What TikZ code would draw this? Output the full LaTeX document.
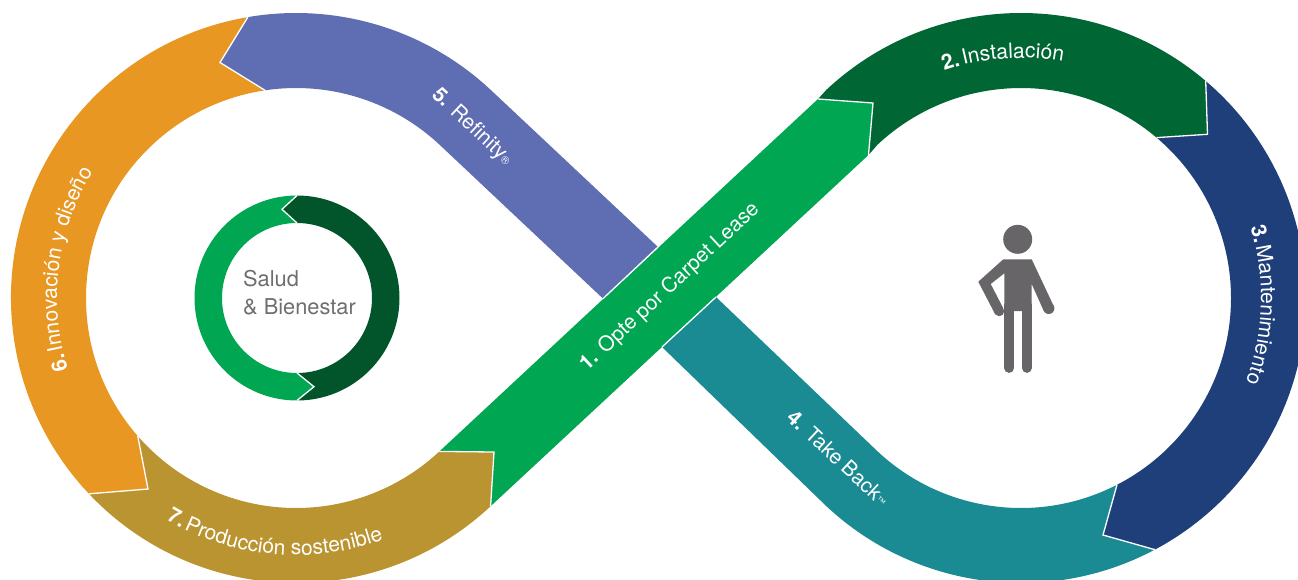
\documentclass[tikz,border=0pt]{standalone}
\usepackage{fontspec}
\setmainfont{TeX Gyre Heros}
\usetikzlibrary{decorations.text}

\definecolor{bandlease}{HTML}{00A651}
\definecolor{bandinstall}{HTML}{006633}
\definecolor{bandcare}{HTML}{1F3F7A}
\definecolor{bandback}{HTML}{1B8B93}
\definecolor{bandrefinity}{HTML}{5F6DB3}
\definecolor{banddesign}{HTML}{E79722}
\definecolor{bandmake}{HTML}{BA9431}
\definecolor{ringdark}{HTML}{02552A}
\definecolor{personcol}{HTML}{676567}
\definecolor{labelgrey}{HTML}{6D6E70}

\newcommand{\bandfont}{\fontsize{21}{24}\selectfont\color{white}}

\begin{document}
\begin{tikzpicture}[x=1pt,y=1pt,
    sep/.style={draw=white,line width=1.3pt,line join=miter},
    bandtext/.style={font=\fontsize{20.8}{24}\selectfont,text=white,inner sep=0pt},
    limb/.style={draw=personcol,line cap=round,line width=9.7pt}]
    \clip (0,0) rectangle (1298,-579);
    \coordinate (cl) at (296,-298);
    \coordinate (cr) at (1021,-298);
    \coordinate (cring) at (297,-298);

    % corners where the bands meet
    \coordinate (o5) at ([shift={(99.73:285pt)}]cl);
    \coordinate (i5) at ([shift={(98.5:210pt)}]cl);
    \coordinate (n5) at (220,-62.5);
    \coordinate (o6) at ([shift={(223.4:285pt)}]cl);
    \coordinate (i6) at ([shift={(221.1:210pt)}]cl);
    \coordinate (n6) at (148,-489);
    \coordinate (o7) at ([shift={(313.06:285pt)}]cl);
    \coordinate (i7) at ([shift={(313.06:210pt)}]cl);
    \coordinate (n7) at (494,-452);
    \coordinate (o1) at (818,-99);
    \coordinate (i1) at (868.5,-155);
    \coordinate (n1) at (873,-103);
    \coordinate (o2) at ([shift={(49.6:285pt)}]cr);
    \coordinate (i2) at ([shift={(49.8:210pt)}]cr);
    \coordinate (n2) at (1207.5,-134.3);
    \coordinate (o3) at ([shift={(298:285pt)}]cr);
    \coordinate (i3) at ([shift={(297.2:210pt)}]cr);
    \coordinate (n3) at (1103,-535);
    % where the two straight parts cross
    \coordinate (x1) at (603,-298.6);
    \coordinate (x2) at (658,-247);
    \coordinate (x3) at (662,-347);
    \coordinate (x4) at (716,-297);

    % bands
    \fill[bandrefinity] (o5) arc[start angle=99.73,end angle=46.94,radius=285pt] -- (x2) -- (x1)
        -- ([shift={(46.94:210pt)}]cl) arc[start angle=46.94,end angle=98.5,radius=210pt] -- (n5) -- cycle;
    \fill[bandback] (x4) -- ([shift={(226.94:210pt)}]cr) arc[start angle=226.94,end angle=297.2,radius=210pt]
        -- (n3) -- (o3) arc[start angle=298,end angle=226.94,radius=285pt] -- (x3) -- cycle;
    \fill[bandlease] (i7) -- (o1) -- (n1) -- (i1) -- (o7) -- (n7) -- cycle;
    \fill[bandinstall] (o1) -- ([shift={(133.06:285pt)}]cr) arc[start angle=133.06,end angle=49.6,radius=285pt]
        -- (n2) -- (i2) arc[start angle=49.8,end angle=133.06,radius=210pt] -- (i1) -- (n1) -- cycle;
    \fill[bandcare] (o2) arc[start angle=49.6,end angle=-62,radius=285pt] -- (n3) -- (i3)
        arc[start angle=-62.8,end angle=49.8,radius=210pt] -- (n2) -- cycle;
    \fill[banddesign] (o5) arc[start angle=99.73,end angle=223.4,radius=285pt] -- (n6) -- (i6)
        arc[start angle=221.1,end angle=98.5,radius=210pt] -- (n5) -- cycle;
    \fill[bandmake] (o6) arc[start angle=223.4,end angle=313.06,radius=285pt] -- (n7) -- (i7)
        arc[start angle=313.06,end angle=221.1,radius=210pt] -- (n6) -- cycle;

    % white seams
    \draw[sep] (o5) -- (n5) -- (i5);
    \draw[sep] (o6) -- (n6) -- (i6);
    \draw[sep] (o7) -- (n7) -- (i7);
    \draw[sep] (o1) -- (n1) -- (i1);
    \draw[sep] (o2) -- (n2) -- (i2);
    \draw[sep] (o3) -- (n3) -- (i3);
    \draw[sep] (x1) -- (x2);
    \draw[sep] (x3) -- (x4);

    % inner ring
    \coordinate (rt) at ([shift={(90:102.5pt)}]cring);
    \coordinate (rb) at ([shift={(270:102.5pt)}]cring);
    \coordinate (rti) at ([shift={(90:75pt)}]cring);
    \coordinate (rbi) at ([shift={(270:75pt)}]cring);
    \coordinate (rn1) at (282,-209.3);
    \coordinate (rn2) at (314,-386.7);
    \fill[bandlease] (rt) arc[start angle=90,end angle=270,radius=102.5pt] -- (rn2) -- (rbi)
        arc[start angle=270,end angle=90,radius=75pt] -- (rn1) -- cycle;
    \fill[ringdark] (rt) arc[start angle=90,end angle=-90,radius=102.5pt] -- (rn2) -- (rbi)
        arc[start angle=-90,end angle=90,radius=75pt] -- (rn1) -- cycle;
    \draw[sep] (rt) -- (rn1) -- (rti);
    \draw[sep] (rb) -- (rn2) -- (rbi);

    % labels
    \node[bandtext,rotate=43] (lease) at (670,-287) {\textbf{1.} Opte por Carpet Lease};
    \node[bandtext,rotate=-43] (refinity) at (472,-127) {\textbf{5.} Refinity{\fontsize{11}{11}\selectfont ®}};
    \node[bandtext,rotate=-43] (takeback) at (838,-458) {\textbf{4.} Take Back{\fontsize{9}{9}\selectfont\raisebox{2pt}{™}}};
    \path[decorate,decoration={text along path,text={|\bandfont\bfseries|2.||{\ }|\bandfont|Instalación}}]
        ([shift={(108.7:240pt)}]cr) arc[start angle=108.7,end angle=60,radius=240pt];
    \path[decorate,decoration={text along path,text={|\bandfont\bfseries|3.||{\ }|\bandfont|Mantenimiento}}]
        ([shift={(17.2:240pt)}]cr) arc[start angle=17.2,end angle=-40,radius=240pt];
    \path[decorate,decoration={text along path,text={|\bandfont\bfseries|6.||{\ }|\bandfont|Innovación y diseño}}]
        ([shift={(197.5:239pt)}]cl) arc[start angle=197.5,end angle=130,radius=239pt];
    \path[decorate,decoration={text along path,text={|\bandfont\bfseries|7.||{\ }|\bandfont|Producción sostenible}}]
        ([shift={(239.6:257pt)}]cl) arc[start angle=239.6,end angle=310,radius=257pt];
    \node[anchor=west,align=left,inner sep=0pt,text=labelgrey,font=\fontsize{21.8}{28}\selectfont] (salud) at (243,-293) {Salud\\\& Bienestar};

    % person
    \fill[personcol] (1017.7,-239.3) circle[radius=14.5pt];
    \fill[personcol] (1003.3,-259.3) -- (1031.7,-259.3) -- (1054,-306.7) -- (1043.3,-310) -- (1031.7,-284) -- (1031.7,-311)
        -- (1004.3,-311) -- (1004.3,-273.3) -- (990.7,-284) -- (1003.3,-308.3) -- (995,-314) -- (978.3,-281.7) -- cycle;
    \fill[personcol] (1048.7,-308.3) circle[radius=5.7pt];
    \fill[personcol] (999.2,-311.2) circle[radius=5pt];
    \draw[limb] (1009.2,-305) -- (1009.2,-368);
    \draw[limb] (1026.7,-305) -- (1026.7,-368);
\end{tikzpicture}
\end{document}
